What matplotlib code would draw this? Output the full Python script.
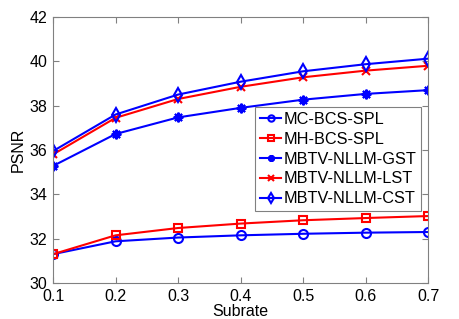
import numpy as np
import matplotlib
matplotlib.use('Agg')
import matplotlib.pyplot as plt

plt.rcParams['font.family'] = ['Liberation Sans', 'DejaVu Sans']

subrate = [0.1, 0.2, 0.3, 0.4, 0.5, 0.6, 0.7]
mc_bcs  = [31.30, 31.88, 32.05, 32.15, 32.22, 32.27, 32.30]
mh_bcs  = [31.30, 32.15, 32.48, 32.68, 32.83, 32.93, 33.02]
gst     = [35.28, 36.72, 37.47, 37.90, 38.27, 38.53, 38.70]
lst     = [35.80, 37.45, 38.30, 38.85, 39.28, 39.58, 39.80]
cst     = [35.95, 37.60, 38.50, 39.08, 39.55, 39.87, 40.12]

fig = plt.figure(figsize=(4.59, 3.19), dpi=100)
ax = fig.add_axes([0.1155, 0.1129, 0.817, 0.8338])

kw = dict(lw=1.5, mew=1.5, mfc='none')
ax.plot(subrate, mc_bcs, '-o', color='blue', ms=6.5, label='MC-BCS-SPL', **kw)
ax.plot(subrate, mh_bcs, '-s', color='red', ms=6, label='MH-BCS-SPL', **kw)
ax.plot(subrate, gst, '-', marker=(8, 2, 0), color='blue', ms=7, label='MBTV-NLLM-GST', **kw)
ax.plot(subrate, lst, '-x', color='red', ms=6, label='MBTV-NLLM-LST', **kw)
ax.plot(subrate, cst, '-d', color='blue', ms=7, label='MBTV-NLLM-CST', **kw)

ax.set_xlim(0.1, 0.7)
ax.set_ylim(30, 42)
ax.set_xticks(subrate)
ax.set_xticklabels(['0.1', '0.2', '0.3', '0.4', '0.5', '0.6', '0.7'])
ax.set_yticks([30, 32, 34, 36, 38, 40, 42])
ax.tick_params(direction='in', length=4, color='#808080', labelsize=11.5, top=True, right=True, pad=4)
for s in ax.spines.values():
    s.set_color('#808080')
ax.set_xlabel('Subrate', fontsize=11.5, labelpad=0.5)
ax.set_ylabel('PSNR', fontsize=11.5, labelpad=3)

leg = ax.legend(loc='lower left', bbox_to_anchor=(0.539, 0.27), fontsize=11.7,
                handlelength=1.3, handletextpad=0.15, borderpad=0.3,
                labelspacing=0.3, borderaxespad=0, fancybox=False, framealpha=1,
                markerscale=0.7)
leg.get_frame().set_edgecolor('#808080')
leg.get_frame().set_linewidth(0.8)

fig.savefig('out.png', dpi=100)
